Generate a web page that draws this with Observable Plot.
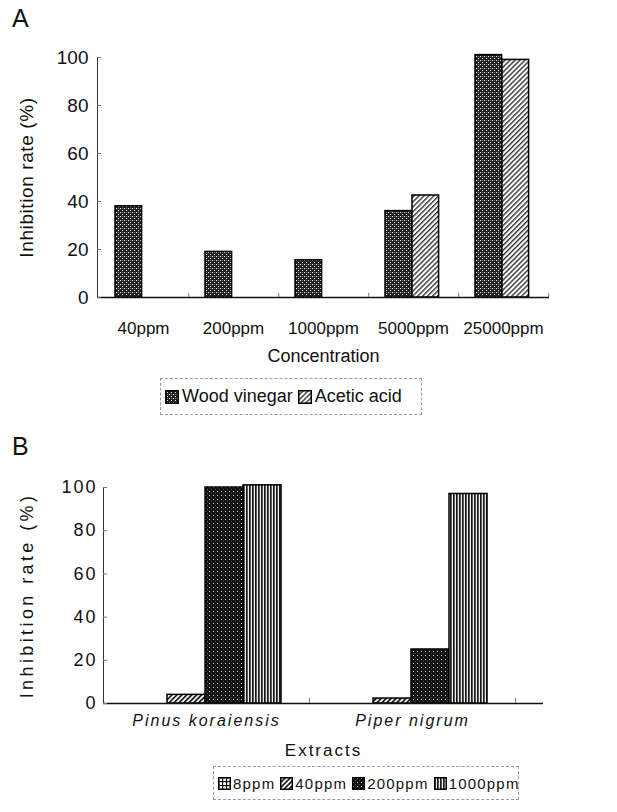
<!DOCTYPE html>
<html><head><meta charset="utf-8">
<script src="https://cdn.jsdelivr.net/npm/d3@7"></script>
<script src="https://cdn.jsdelivr.net/npm/@observablehq/plot@0.6"></script>
<style>
body{margin:0;background:#fff;font-family:Arial,"Liberation Sans",sans-serif;color:#111;}
#page{position:relative;width:617px;height:812px;overflow:hidden;background:#fff;}
.panel{position:absolute;left:12px;font-size:25px;line-height:1;}
.chart{position:absolute;left:0;}
.legend{position:absolute;border:1px dashed #9a9a9a;display:flex;align-items:center;box-sizing:border-box;padding-left:4px;white-space:nowrap;}
.legend .item{display:flex;align-items:center;margin-right:5px;}
.legend svg{margin-right:3px;}
#legA{font-size:18px;}
#legB{font-size:15px;letter-spacing:1.2px;}
#legB svg{margin-right:2px;}
#chartA g[aria-label="y-axis label"] text{letter-spacing:0.6px;}
#chartB text{letter-spacing:2px;}
#chartB g[aria-label="y-axis label"] text{letter-spacing:3.4px;}
</style></head>
<body>
<svg width="0" height="0" style="position:absolute">
<defs>
<pattern id="pWood" width="4" height="4" patternUnits="userSpaceOnUse">
<rect width="4" height="4" fill="#222"/>
<rect x="0" y="0" width="1" height="1" fill="#eee"/>
<rect x="2" y="2" width="1" height="1" fill="#eee"/>
<rect x="2" y="0" width="1" height="1" fill="#777"/>
</pattern>
<pattern id="pAcid" width="3.5" height="3.5" patternUnits="userSpaceOnUse" patternTransform="rotate(45)">
<rect width="3.5" height="3.5" fill="#fff"/>
<rect width="1.4" height="3.5" fill="#333"/>
</pattern>
<pattern id="p8" width="4" height="4" patternUnits="userSpaceOnUse">
<rect width="4" height="4" fill="#fff"/>
<rect width="4" height="1.2" fill="#111"/>
<rect width="1.2" height="4" fill="#111"/>
</pattern>
<pattern id="p40" width="3.5" height="3.5" patternUnits="userSpaceOnUse" patternTransform="rotate(45)">
<rect width="3.5" height="3.5" fill="#fff"/>
<rect width="1.8" height="3.5" fill="#222"/>
</pattern>
<pattern id="p200" width="4" height="4" patternUnits="userSpaceOnUse">
<rect width="4" height="4" fill="#111"/>
<rect x="1" y="1" width="1" height="1" fill="#ddd"/>
<rect x="3" y="3" width="1" height="1" fill="#555"/>
</pattern>
<pattern id="p1000" width="3" height="3" patternUnits="userSpaceOnUse">
<rect width="3" height="3" fill="#eee"/>
<rect width="1.7" height="3" fill="#1a1a1a"/>
</pattern>
</defs>
</svg>
<div id="page">
<div class="panel" style="top:6px">A</div>
<div class="chart" id="chartA" style="top:0"></div>
<div class="legend" id="legA" style="left:160px;top:378px;width:262px;height:37px;"></div>
<div class="panel" style="top:434px">B</div>
<div class="chart" id="chartB" style="top:430px"></div>
<div class="legend" id="legB" style="left:213px;top:766px;width:306px;height:34px;"></div>
</div>
<script>
// ---- Data ----
const concentrations = ["40ppm", "200ppm", "1000ppm", "5000ppm", "25000ppm"];
const seriesA = ["Wood vinegar", "Acetic acid"];
const woodVinegar = [38, 19, 15.5, 36, 101];
const aceticAcid = [0, 0, 0, 42.5, 99];

const extracts = ["Pinus koraiensis", "Piper nigrum"];
const dosesB = ["8ppm", "40ppm", "200ppm", "1000ppm"];
const ppm8 = [0, 0];
const ppm40 = [4, 2.3];
const ppm200 = [100, 25];
const ppm1000 = [101, 97];

const yTicks = [0, 20, 40, 60, 80, 100];

// ---- Styling ----
const patA = {"Wood vinegar": "url(#pWood)", "Acetic acid": "url(#pAcid)"};
const patB = {"8ppm": "url(#p8)", "40ppm": "url(#p40)", "200ppm": "url(#p200)", "1000ppm": "url(#p1000)"};
const W = 617;

// ---- Chart A ----
const A = {ml: 97, mr: 68, mt: 57, mb: 73, h: 370, pad: 17, barW: 27};
const stepA = (W - A.ml - A.mr) / concentrations.length;
const valuesA = [woodVinegar, aceticAcid];
const dataA = concentrations.flatMap((c, i) => seriesA.map((s, j) => ({cat: c, series: s, value: valuesA[j][i]})));

const barsA = seriesA.map((s, i) => Plot.barY(dataA.filter(d => d.series === s), {
  x: "cat", y: "value", fill: patA[s], stroke: "#000", strokeWidth: 1.5,
  insetLeft: A.pad + i * A.barW, insetRight: stepA - A.pad - (i + 1) * A.barW
}));

const chartA = Plot.plot({
  width: W, height: A.h, marginTop: A.mt, marginBottom: A.mb, marginLeft: A.ml, marginRight: A.mr,
  style: {fontFamily: "Arial, 'Liberation Sans', sans-serif", fontSize: "16px", color: "#111", background: "transparent", overflow: "visible"},
  x: {type: "band", domain: concentrations, padding: 0},
  y: {domain: [0, 100]},
  marks: [
    ...barsA,
    Plot.ruleY([0], {stroke: "#111", strokeWidth: 1.5}),
    Plot.frame({anchor: "left", stroke: "#333"}),
    Plot.axisY(yTicks, {tickSize: 4, dx: 4, tickFormat: () => "", label: null, stroke: "#777"}),
    Plot.axisY(yTicks, {tickSize: 0, tickPadding: 9, label: "Inhibition rate (%)", labelAnchor: "center", labelArrow: "none", labelOffset: 78, fontSize: 19}),
    Plot.axisX({tickSize: 4, dx: stepA / 2, dy: -4, tickFormat: () => "", label: null, stroke: "#777"}),
    Plot.axisX({tickSize: 0, tickPadding: 24, label: null, fontSize: 17}),
    Plot.axisX({tickSize: 0, tickFormat: () => "", label: "Concentration", labelAnchor: "center", labelArrow: "none", labelOffset: 64, dx: -12, fontSize: 18})
  ]
});
document.getElementById("chartA").append(chartA);

// ---- Chart B ----
const B = {ml: 103, mr: 74, mt: 57, mb: 62, h: 335, pad: 26, barW: 38, bandEnd: 515};
const stepB = (B.bandEnd - B.ml) / extracts.length;
const valuesB = [ppm8, ppm40, ppm200, ppm1000];
const dataB = extracts.flatMap((e, i) => dosesB.map((s, j) => ({cat: e, series: s, value: valuesB[j][i]})));

const barsB = dosesB.map((s, i) => Plot.barY(dataB.filter(d => d.series === s), {
  x: "cat", y: "value", fill: patB[s], stroke: "#000", strokeWidth: 1.5,
  insetLeft: B.pad + i * B.barW, insetRight: stepB - B.pad - (i + 1) * B.barW
}));

const chartB = Plot.plot({
  width: W, height: B.h, marginTop: B.mt, marginBottom: B.mb, marginLeft: B.ml, marginRight: B.mr,
  style: {fontFamily: "Arial, 'Liberation Sans', sans-serif", fontSize: "16px", color: "#111", background: "transparent", overflow: "visible"},
  x: {type: "band", domain: extracts, padding: 0, range: [B.ml, B.bandEnd]},
  y: {domain: [0, 100]},
  marks: [
    ...barsB,
    Plot.ruleY([0], {stroke: "#111", strokeWidth: 1.5}),
    Plot.frame({anchor: "left", stroke: "#333"}),
    Plot.axisY(yTicks, {tickSize: 4, dx: 4, tickFormat: () => "", label: null, stroke: "#777"}),
    Plot.axisY(yTicks, {tickSize: 0, tickPadding: 6, label: "Inhibition rate (%)", labelAnchor: "center", labelArrow: "none", labelOffset: 83, fontSize: 18}),
    Plot.axisX({tickSize: 5, dx: stepB / 2, dy: -5, tickFormat: () => "", label: null, stroke: "#777"}),
    Plot.axisX({tickSize: 0, tickPadding: 11, label: null, fontSize: 16, fontStyle: "italic"}),
    Plot.axisX({tickSize: 0, tickFormat: () => "", label: "Extracts", labelAnchor: "center", labelArrow: "none", labelOffset: 52, fontSize: 17})
  ]
});
document.getElementById("chartB").append(chartB);

// ---- Legends ----
function legend(el, names, pats, size) {
  for (const n of names) {
    const item = document.createElement("span");
    item.className = "item";
    item.innerHTML = `<svg width="${size}" height="${size}"><rect x="0.75" y="0.75" width="${size - 1.5}" height="${size - 1.5}" fill="${pats[n]}" stroke="#000" stroke-width="1.5"/></svg>`;
    item.append(document.createTextNode(n));
    el.append(item);
  }
}
legend(document.getElementById("legA"), seriesA, patA, 14);
legend(document.getElementById("legB"), dosesB, patB, 13);
</script>
</body></html>
